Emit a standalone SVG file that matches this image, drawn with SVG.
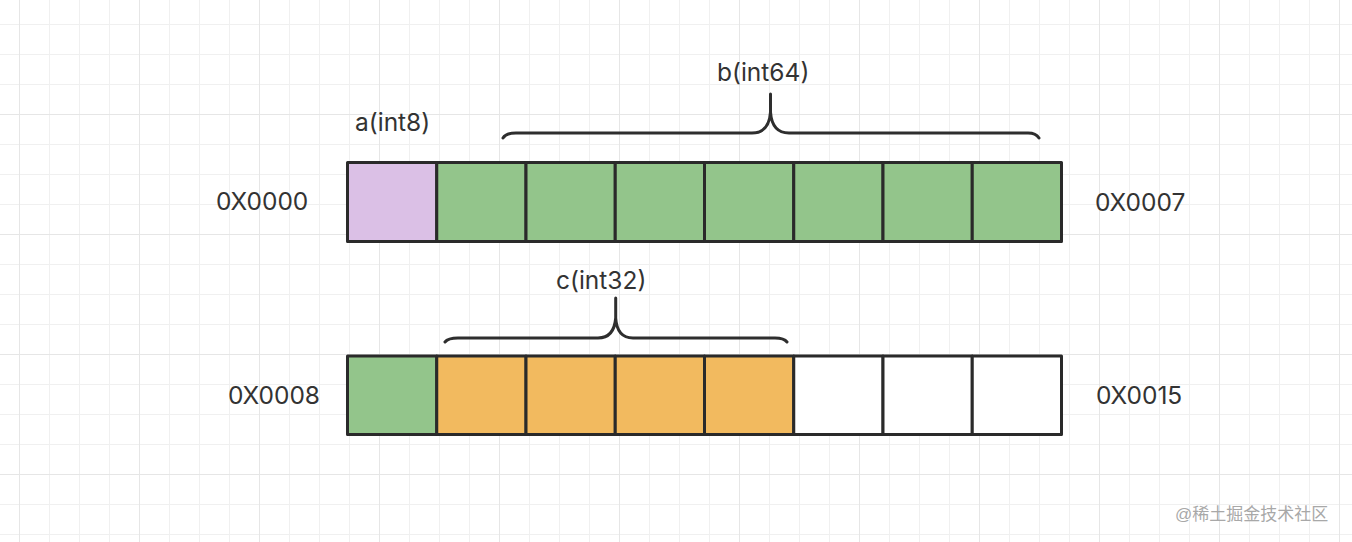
<svg xmlns="http://www.w3.org/2000/svg" width="1352" height="542" viewBox="0 0 1352 542">
<defs>
<pattern id="grid" x="19" y="24" width="30" height="30" patternUnits="userSpaceOnUse">
<path d="M0,0 V30 M0,0 H30" fill="none" stroke="#f0f0f0" stroke-width="2"/>
</pattern>
<pattern id="grid4" x="19" y="-6" width="120" height="120" patternUnits="userSpaceOnUse">
<path d="M0,0 V120 M0,0 H120" fill="none" stroke="#e6e6e6" stroke-width="2"/>
</pattern>
</defs>
<style>
.cell{stroke:#2a2a2a;stroke-width:3;stroke-linejoin:round}
.p{fill:#dbc0e6}
.g{fill:#93c58b}
.o{fill:#f2ba5f}
.w{fill:#ffffff}
.t{font-family:Inter,"Liberation Sans",sans-serif;font-size:24.5px;fill:#333333}
.brace{fill:none;stroke:#2e2e2e;stroke-width:3;stroke-linecap:round;stroke-linejoin:round}
.wm{font-family:"Liberation Sans","Noto Sans CJK SC",sans-serif;font-size:17px;fill:#a8a8a8}
</style>
<rect width="1352" height="542" fill="#ffffff"/>
<rect width="1352" height="542" fill="url(#grid)"/>
<rect width="1352" height="542" fill="url(#grid4)"/>

<g id="row1">
<rect class="cell p" x="347.5" y="162.5" width="89.25" height="79"/>
<rect class="cell g" x="436.75" y="162.5" width="89.25" height="79"/>
<rect class="cell g" x="526" y="162.5" width="89.25" height="79"/>
<rect class="cell g" x="615.25" y="162.5" width="89.25" height="79"/>
<rect class="cell g" x="704.5" y="162.5" width="89.25" height="79"/>
<rect class="cell g" x="793.75" y="162.5" width="89.25" height="79"/>
<rect class="cell g" x="883" y="162.5" width="89.25" height="79"/>
<rect class="cell g" x="972.25" y="162.5" width="89.25" height="79"/>
</g>
<g id="row2">
<rect class="cell g" x="347.5" y="356" width="89.25" height="78.5"/>
<rect class="cell o" x="436.75" y="356" width="89.25" height="78.5"/>
<rect class="cell o" x="526" y="356" width="89.25" height="78.5"/>
<rect class="cell o" x="615.25" y="356" width="89.25" height="78.5"/>
<rect class="cell o" x="704.5" y="356" width="89.25" height="78.5"/>
<rect class="cell w" x="793.75" y="356" width="89.25" height="78.5"/>
<rect class="cell w" x="883" y="356" width="89.25" height="78.5"/>
<rect class="cell w" x="972.25" y="356" width="89.25" height="78.5"/>
</g>

<g id="connectors">
<path class="brace" d="M503,138 Q506,133 516,133 H752 Q769,133 770.5,112 V94 M770.5,112 Q772,133 789,133 H1028 Q1036,133 1039,138"/>
<path class="brace" d="M445,342 Q448,338 458,338 H598 Q614,338 615.7,318 V298 M615.7,318 Q617,338 633,338 H775 Q784,338 787,342"/>
</g>

<g id="label-a"><text class="t" x="355" y="131">a(int8)</text></g>
<g id="label-b"><text class="t" x="717" y="81">b(int64)</text></g>
<g id="label-c"><text class="t" x="556" y="289">c(int32)</text></g>
<g id="addr-0000"><text class="t" x="216" y="210">0X0000</text></g>
<g id="addr-0007"><text class="t" x="1095" y="210.5">0X0007</text></g>
<g id="addr-0008"><text class="t" x="228" y="403.5">0X0008</text></g>
<g id="addr-0015"><text class="t" x="1096" y="404">0X0015</text></g>
<text class="wm" x="1175" y="520">@稀土掘金技术社区</text>
</svg>
